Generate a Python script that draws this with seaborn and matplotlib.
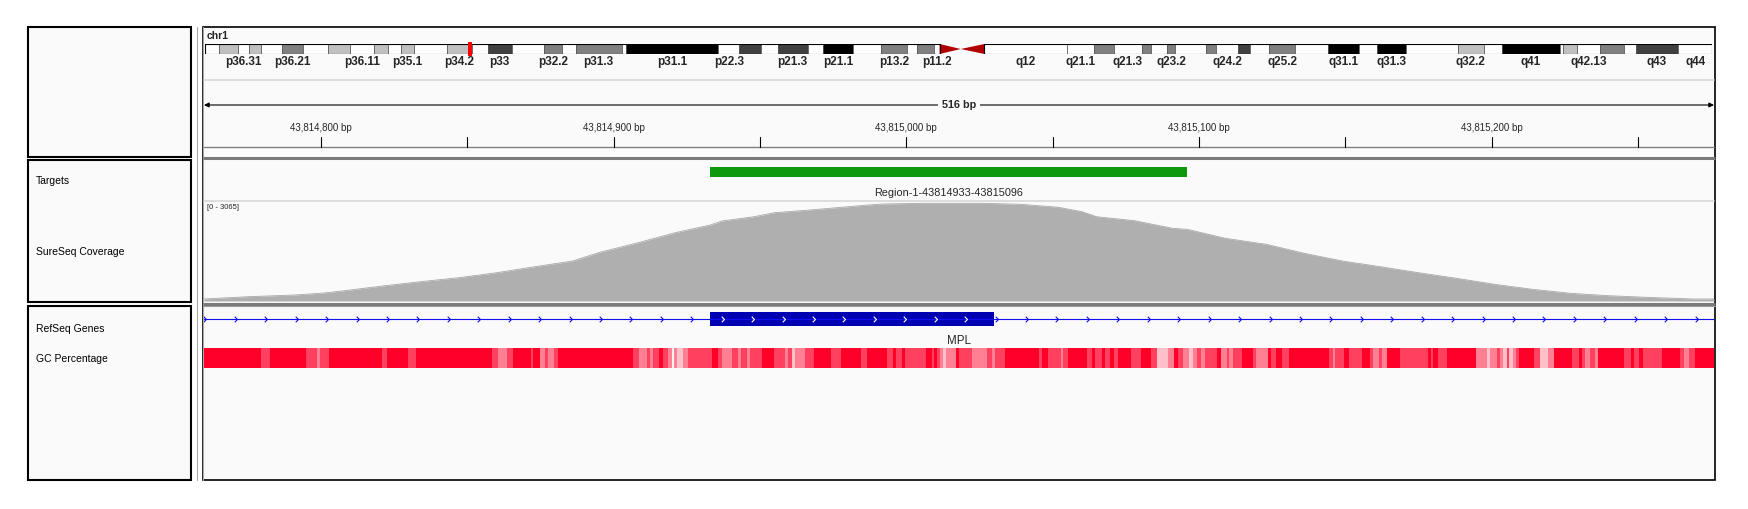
import numpy as np
import matplotlib
matplotlib.use("Agg")
import matplotlib.pyplot as plt
from matplotlib.patches import Rectangle, Polygon
from matplotlib.path import Path
import seaborn as sns

sns.set_theme(style="white")
plt.rcParams["font.family"] = ["Liberation Sans", "DejaVu Sans"]

# ---------------- data ----------------
chrom = "chr1"
view_start = 43814760
view_end = 43815276
chrom_len_mb = 249.250621

# hg19 chr1 cytobands (Mb)
band_names = ["p36.33", "p36.32", "p36.31", "p36.23", "p36.22", "p36.21", "p36.13", "p36.12",
              "p36.11", "p35.3", "p35.2", "p35.1", "p34.3", "p34.2", "p34.1", "p33", "p32.3",
              "p32.2", "p32.1", "p31.3", "p31.2", "p31.1", "p22.3", "p22.2", "p22.1", "p21.3",
              "p21.2", "p21.1", "p13.3", "p13.2", "p13.1", "p12", "p11.2", "p11.1", "q11", "q12",
              "q21.1", "q21.2", "q21.3", "q22", "q23.1", "q23.2", "q23.3", "q24.1", "q24.2",
              "q24.3", "q25.1", "q25.2", "q25.3", "q31.1", "q31.2", "q31.3", "q32.1", "q32.2",
              "q32.3", "q41", "q42.11", "q42.12", "q42.13", "q42.2", "q42.3", "q43", "q44"]
band_starts = [0.0, 2.3, 5.4, 7.2, 9.2, 12.7, 16.2, 20.4, 23.9, 28.0, 30.2, 32.4, 34.6, 40.1,
               44.1, 46.8, 50.7, 56.1, 59.0, 61.3, 68.9, 69.7, 84.9, 88.4, 92.0, 94.7, 99.7,
               102.2, 107.2, 111.8, 116.1, 117.8, 120.6, 121.5, 125.0, 128.9, 142.6, 147.0,
               150.3, 155.0, 156.5, 159.1, 160.5, 165.5, 167.2, 170.9, 172.9, 176.0, 180.3,
               185.8, 190.8, 193.8, 198.7, 207.2, 211.5, 214.5, 224.1, 224.6, 227.0, 230.7,
               234.7, 236.6, 243.7]
band_stains = ["gneg", "gpos25", "gneg", "gpos25", "gneg", "gpos50", "gneg", "gpos25", "gneg",
               "gpos25", "gneg", "gpos25", "gneg", "gpos25", "gneg", "gpos75", "gneg", "gpos50",
               "gneg", "gpos50", "gneg", "gpos100", "gneg", "gpos75", "gneg", "gpos75", "gneg",
               "gpos100", "gneg", "gpos50", "gneg", "gpos50", "gneg", "acen", "acen", "gvar",
               "gneg", "gpos50", "gneg", "gpos50", "gneg", "gpos50", "gneg", "gpos50", "gneg",
               "gpos75", "gneg", "gpos50", "gneg", "gpos100", "gneg", "gpos100", "gneg",
               "gpos25", "gneg", "gpos100", "gneg", "gpos25", "gneg", "gpos50", "gneg",
               "gpos75", "gneg"]
band_labels_shown = ["p36.31", "p36.21", "p36.11", "p35.1", "p34.2", "p33", "p32.2", "p31.3",
                     "p31.1", "p22.3", "p21.3", "p21.1", "p13.2", "p11.2", "q12", "q21.1",
                     "q21.3", "q23.2", "q24.2", "q25.2", "q31.1", "q31.3", "q32.2", "q41",
                     "q42.13", "q43", "q44"]

target_start, target_end = 43814933, 43815096
target_name = "Region-1-43814933-43815096"

gene_name = "MPL"
exon_start, exon_end = 43814933, 43815030

cov_max = 3065
cov_offset = [0, 15, 31, 41, 48, 61, 74, 87, 100, 113, 126, 135, 148, 161, 173, 177, 188, 195,
              207, 227, 232, 246, 266, 279, 292, 300, 305, 318, 331, 336, 349, 363, 376, 389,
              402, 415, 428, 441, 454, 467, 480, 493, 509, 516]
cov_depth = [62, 133, 186, 248, 319, 464, 598, 721, 876, 1062, 1238, 1502, 1796, 2115, 2353,
             2477, 2610, 2734, 2817, 2972, 3003, 3025, 3025, 2994, 2901, 2765, 2610, 2486,
             2250, 2219, 1941, 1755, 1476, 1238, 1062, 876, 703, 517, 362, 238, 164, 114, 62, 62]

gc_offset = [0, 19.5, 22.5, 34.7, 38.5, 39.6, 42.7, 60.7, 62.4, 69.8, 72.5, 98.5, 100.4, 103.4,
             105.7, 111.7, 112.5, 114.8, 116.5, 117.7, 119.6, 120.8, 146.5, 148.8, 151.3,
             152.4, 153.3, 155.6, 156.7, 158.7, 159.8, 160.6, 161.5, 163.6, 165.5, 173.5,
             175.8, 176.9, 180.3, 182.6, 183.5, 185.4, 186.6, 190.6, 194.8, 198.5, 199.7,
             201.0, 201.9, 205.4, 208.6, 214.3, 217.6, 224.5, 226.7, 233.3, 235.6, 236.5,
             238.4, 239.6, 246.7, 248.7, 249.6, 250.4, 251.5, 252.7, 253.5, 256.9, 258.0,
             262.3, 267.5, 269.4, 270.3, 273.7, 285.5, 286.5, 288.5, 292.9, 293.7, 295.4,
             301.6, 303.3, 304.5, 306.8, 307.9, 309.6, 310.8, 312.5, 316.7, 320.2, 323.6,
             325.6, 329.5, 331.3, 332.7, 334.7, 336.6, 338.1, 339.2, 340.7, 342.1, 346.1,
             347.6, 349.5, 350.4, 351.5, 354.6, 358.6, 359.5, 363.7, 364.6, 366.4, 368.3,
             370.8, 384.5, 385.7, 386.5, 389.6, 391.3, 395.6, 398.5, 399.6, 401.6, 402.5,
             404.4, 408.7, 418.4, 419.2, 420.1, 421.6, 424.7, 434.7, 438.4, 439.5, 441.8,
             442.9, 444.0, 445.2, 446.1, 447.2, 448.4, 449.5, 454.5, 456.4, 459.4, 461.4,
             467.4, 469.7, 470.8, 472.0, 473.7, 475.4, 476.5, 485.4, 487.6, 488.5, 490.2,
             491.6, 498.4, 504.4, 505.6, 507.5, 509.6, 516]
gc_pct = [68, 58, 68, 58, 48, 58, 68, 58, 68, 58, 68, 58, 48, 58, 68, 58, 68, 48, 58, 48, 58,
          68, 58, 48, 58, 48, 58, 68, 58, 48, 30, 48, 38, 48, 58, 68, 58, 48, 58, 48, 58, 48,
          58, 68, 58, 48, 58, 38, 48, 58, 68, 58, 68, 58, 68, 58, 68, 58, 68, 58, 68, 58, 68,
          58, 48, 38, 48, 68, 58, 48, 58, 48, 58, 68, 58, 68, 58, 48, 58, 68, 58, 68, 58, 68,
          58, 68, 58, 68, 58, 68, 58, 38, 48, 68, 58, 48, 38, 48, 58, 48, 58, 68, 48, 58, 48,
          58, 68, 58, 48, 68, 58, 68, 58, 68, 58, 48, 58, 68, 58, 68, 58, 48, 58, 48, 68, 58,
          68, 58, 68, 58, 68, 48, 38, 48, 58, 48, 38, 58, 38, 48, 58, 68, 58, 38, 48, 68, 58,
          68, 58, 48, 58, 48, 68, 58, 68, 58, 68, 58, 68, 58, 48, 58, 68]

# ---------------- style ----------------
W, H = 1749, 509
PANEL_BG = "#FAFAFA"
stain_colors = {"gneg": "white", "gvar": "white", "gpos25": "#C0C0C0", "gpos50": "#808080",
                "gpos75": "#404040", "gpos100": "#000000", "acen": "#B00000"}

fig = plt.figure(figsize=(W / 100, H / 100), dpi=100)
fig.patch.set_facecolor("white")


def px_axes(x0, y0, x1, y1):
    ax = fig.add_axes([x0 / W, 1 - y1 / H, (x1 - x0) / W, (y1 - y0) / H])
    ax.set_axis_off()
    ax.patch.set_alpha(0)
    return ax


# ---- frame / panels (pixel space) ----
bg = px_axes(0, 0, W, H)
bg.set_xlim(0, W); bg.set_ylim(H, 0)
bg.add_patch(Rectangle((203, 27), 1512, 453, facecolor=PANEL_BG, edgecolor="black", lw=1.2))
for y0, y1 in [(27, 157), (160, 302), (306, 480)]:
    bg.add_patch(Rectangle((28, y0), 163, y1 - y0, facecolor=PANEL_BG, edgecolor="black", lw=1.5))
for x in (197, 203):
    bg.plot([x, x], [27, 480], color="#A8A8A8", lw=0.8)
for y in (158, 303.5):
    bg.plot([203, 1715], [y, y], color="#7A7A7A", lw=2.2, solid_capstyle="butt")
bg.plot([203, 1715], [306, 306], color="#9A9A9A", lw=0.8)
bg.plot([204, 1714], [80, 80], color="#D8D8D8", lw=1.2)
bg.plot([204, 1714], [201, 201], color="#D8D8D8", lw=1.2)
bg.plot([204, 1714], [147, 147], color="#808080", lw=1.0)

# track names
for name, y in [("Targets", 181), ("SureSeq Coverage", 252), ("RefSeq Genes", 329),
                ("GC Percentage", 359)]:
    bg.text(36, y, name, fontsize=7.5, va="center", ha="left", color="black")
bg.text(207, 36, chrom, fontsize=7.5, fontweight="bold", va="center", ha="left")

# ---- ideogram ----
ax_ideo = px_axes(205, 44, 1712, 54)
ax_ideo.set_xlim(0, chrom_len_mb); ax_ideo.set_ylim(0, 1)
band_ends = band_starts[1:] + [chrom_len_mb]
cen = None
for nm, s, e, st in zip(band_names, band_starts, band_ends, band_stains):
    if st == "acen":
        if nm.startswith("p"):
            ax_ideo.add_patch(Polygon([(s, 0), (s, 1), (e, 0.5)], color=stain_colors[st], lw=0))
        else:
            ax_ideo.add_patch(Polygon([(e, 0), (e, 1), (s, 0.5)], color=stain_colors[st], lw=0))
        cen = (s, e) if cen is None else (cen[0], e)
        continue
    ax_ideo.add_patch(Rectangle((s, 0), e - s, 1, facecolor=stain_colors[st],
                                edgecolor="#505050", lw=0.5))
    if nm in band_labels_shown:
        ax_ideo.text((s + e) / 2, -0.8, nm, fontsize=8.5, fontweight="bold", ha="center",
                     va="center", clip_on=False)
ax_ideo.add_patch(Rectangle((0, 0), cen[0], 1, fill=False, edgecolor="black", lw=0.8))
ax_ideo.add_patch(Rectangle((cen[1], 0), chrom_len_mb - cen[1], 1, fill=False,
                            edgecolor="black", lw=0.8))
loc_mb = (view_start + view_end) / 2 / 1e6
ax_ideo.add_patch(Rectangle((loc_mb - 0.33, -0.2), 0.66, 1.4, color="#FF0000", lw=0,
                            clip_on=False))

# ---- ruler ----
ax_rul = px_axes(204, 80, 1714, 157)
ax_rul.set_xlim(view_start, view_end); ax_rul.set_ylim(157, 80)
ax_rul.annotate("", xy=(view_end, 105), xytext=(view_start, 105),
                arrowprops=dict(arrowstyle="<|-|>", lw=0.8, color="black", mutation_scale=7,
                                shrinkA=0, shrinkB=0))
ax_rul.text((view_start + view_end) / 2, 105, f"{view_end - view_start} bp", fontsize=7.8,
            fontweight="bold", ha="center", va="center",
            bbox=dict(facecolor=PANEL_BG, edgecolor="none", pad=3))
for t in range(43814800, view_end, 50):
    ax_rul.plot([t, t], [137, 146.5], color="black", lw=0.8)
    if t % 100 == 0:
        ax_rul.text(t, 128, f"{t:,} bp", fontsize=7, ha="center", va="center")

# ---- targets ----
ax_tgt = px_axes(204, 160, 1714, 201)
ax_tgt.set_xlim(view_start, view_end); ax_tgt.set_ylim(201, 160)
ax_tgt.add_patch(Rectangle((target_start, 167), target_end - target_start, 10,
                           color="#0C9A0C", lw=0))
ax_tgt.text((target_start + target_end) / 2, 193, target_name, fontsize=7.8, ha="center",
            va="center")

# ---- coverage ----
ax_cov = px_axes(204, 202, 1714, 301)
cov_pos = np.array(cov_offset) + view_start
ax_cov.fill_between(cov_pos, 0, cov_depth, color="#AFAFAF", lw=0)
sns.lineplot(x=cov_pos, y=cov_depth, ax=ax_cov, color="#A8A8A8", lw=0.6)
ax_cov.set_xlim(view_start, view_end); ax_cov.set_ylim(0, cov_max)
ax_cov.set_axis_off()
ax_cov.text(0.002, 0.94, f"[0 - {cov_max}]", transform=ax_cov.transAxes, fontsize=5.5,
            ha="left", va="center")

# ---- RefSeq gene ----
ax_gene = px_axes(204, 307, 1714, 347)
ax_gene.set_xlim(view_start, view_end); ax_gene.set_ylim(347, 307)
ax_gene.plot([view_start, view_end], [319, 319], color="#1010F0", lw=0.8)
ax_gene.add_patch(Rectangle((exon_start, 312), exon_end - exon_start, 14, color="#0000B3", lw=0))
chevron = Path([(-1, 1), (0, 0), (-1, -1)], [Path.MOVETO, Path.LINETO, Path.LINETO])
spacing = 10.4
pos = np.arange(view_start + 0.8, view_end, spacing)
inside = (pos > exon_start + 3) & (pos < exon_end - 2)
ax_gene.plot(pos[~inside], np.full((~inside).sum(), 319), ls="none", marker=chevron,
             markersize=4, mfc="none", mec="#1010F0", mew=0.8)
ax_gene.plot(pos[inside], np.full(inside.sum(), 319), ls="none", marker=chevron,
             markersize=4, mfc="none", mec="white", mew=0.8)
ax_gene.text((view_start + view_end) / 2, 341, gene_name, fontsize=8.3, ha="center", va="center")

# ---- GC percentage ----
ax_gc = px_axes(204, 348, 1714, 368)
gc_cmap = sns.blend_palette(["#FFF2F4", "#FF0028"], as_cmap=True)
edges = np.array(gc_offset) + view_start
ax_gc.pcolormesh(edges, [0, 1], np.array(gc_pct)[None, :], cmap=gc_cmap, vmin=30, vmax=68)
ax_gc.set_xlim(view_start, view_end); ax_gc.set_ylim(0, 1)
ax_gc.set_axis_off()

fig.savefig("out.png", dpi=100, facecolor="white")
